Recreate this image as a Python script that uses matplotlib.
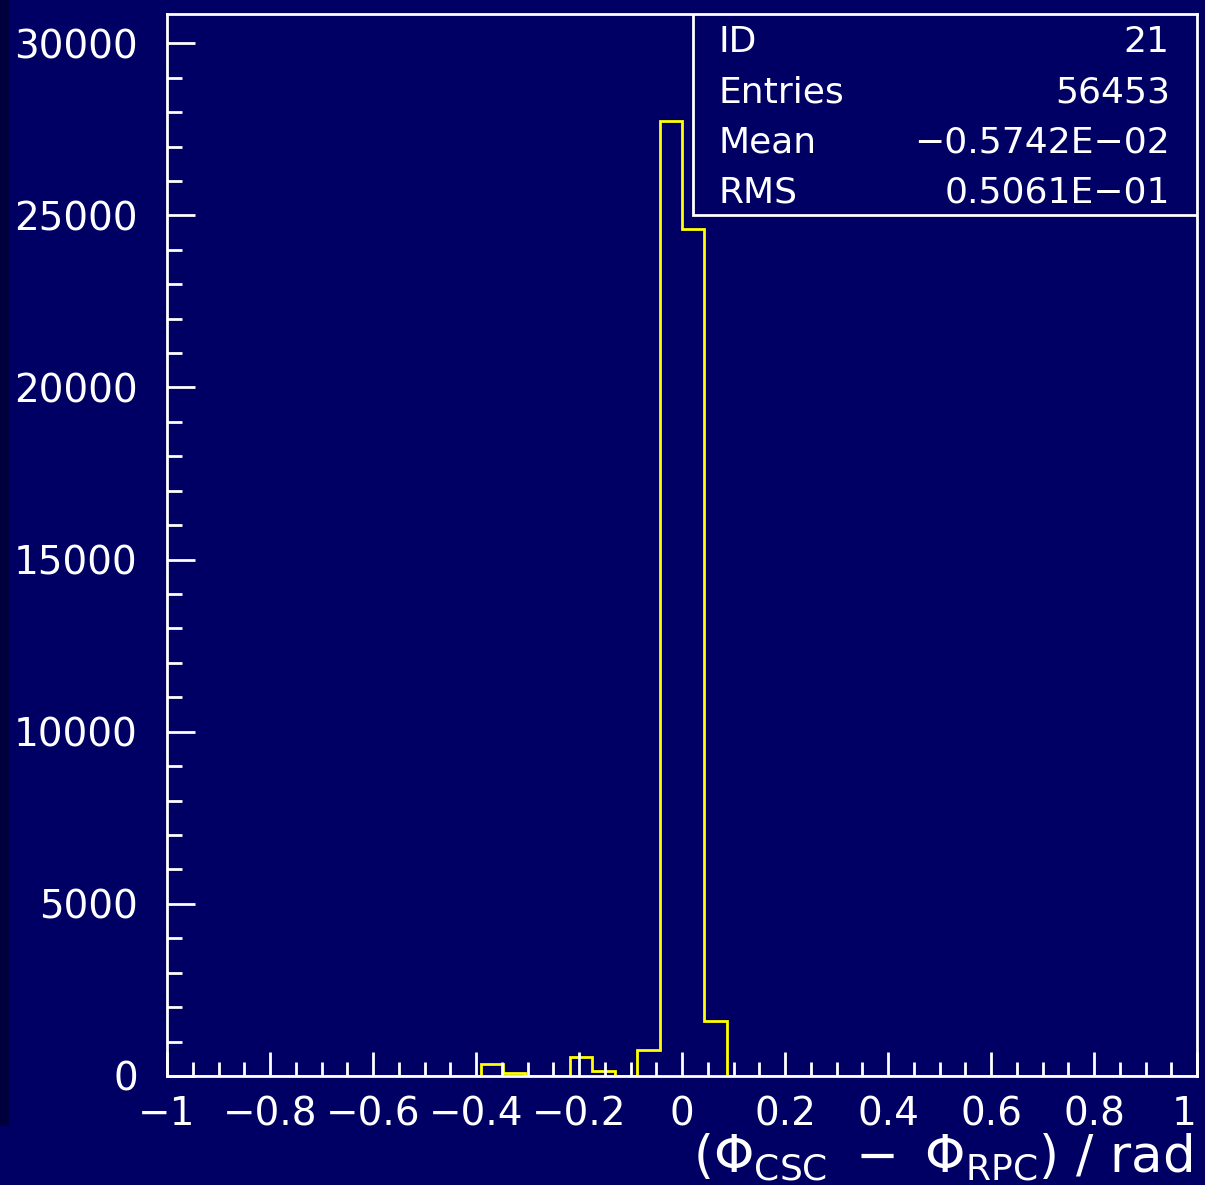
import numpy as np
import matplotlib
matplotlib.use('Agg')
import matplotlib.patches as mpatches
from matplotlib import pyplot as plt
from matplotlib.ticker import MultipleLocator

# histogram 21: 46 bins over [-1, 1]
n_bins = 46
x_lo, x_hi = -1.0, 1.0
# non-empty bins: (bin index, content)
filled_bins = [14, 15, 18, 19, 21, 22, 23, 24]
filled_counts = [348, 78, 543, 145, 755, 27745, 24600, 1606]

stat_names = ['ID', 'Entries', 'Mean', 'RMS']
stat_values = ['21', '56453', '\u22120.5742E\u221202', '0.5061E\u221201']

x_label = r'$(\Phi_{\mathrm{CSC}}\ -\ \Phi_{\mathrm{RPC}})\ /\ \mathrm{rad}$'

bg = '#000064'
fg = 'white'

plt.rcParams['mathtext.fontset'] = 'dejavusans'
plt.rcParams['font.family'] = ['DejaVu Sans']

edges = np.linspace(x_lo, x_hi, n_bins + 1)
counts = np.zeros(n_bins)
counts[filled_bins] = filled_counts


def fmt_x(v, pos):
    if abs(v) < 1e-9:
        return '0'
    return ('%g' % round(v, 1)).replace('-', '\u2212')


fig = plt.figure(figsize=[12.05, 11.85], dpi=100, facecolor=bg)
fig.patches.append(mpatches.Rectangle((0, 0.05), 0.0075, 0.95, transform=fig.transFigure,
                                      fc='#00003c', ec='none', zorder=0))
ax = fig.add_axes([0.1386, 0.0920, 0.8548, 0.8962])
ax.set_facecolor(bg)
ax.stairs(counts, edges, color='#ffff00', lw=2.0)

ax.set_xlim(x_lo, x_hi)
ax.set_ylim(0, 30850)
for s in ax.spines.values():
    s.set_color(fg)
    s.set_linewidth(2.0)

ax.xaxis.set_major_locator(MultipleLocator(0.2))
ax.xaxis.set_minor_locator(MultipleLocator(0.05))
ax.yaxis.set_major_locator(MultipleLocator(5000))
ax.yaxis.set_minor_locator(MultipleLocator(1000))
ax.tick_params(axis='both', which='both', direction='in', colors=fg, width=2.0,
               top=False, right=False, labelsize=28)
ax.tick_params(axis='x', which='major', length=17, pad=14)
ax.tick_params(axis='x', which='minor', length=10)
ax.tick_params(axis='y', which='major', length=20, pad=21)
ax.tick_params(axis='y', which='minor', length=11)
ax.xaxis.set_major_formatter(fmt_x)
ax.yaxis.set_major_formatter(lambda v, p: '%d' % v)

ax.set_xlabel(x_label, color=fg, fontsize=37)
ax.xaxis.set_label_coords(0.995, -0.052)
ax.xaxis.label.set_horizontalalignment('right')

# statistics box in the upper right corner
box = mpatches.Rectangle((0.5107, 0.811), 0.4893, 0.189, transform=ax.transAxes,
                         fc=bg, ec=fg, lw=2.0, zorder=5)
ax.add_patch(box)
row_y = [0.9735, 0.9264, 0.8794, 0.8323]
for name, val, y in zip(stat_names, stat_values, row_y):
    ax.text(0.5357, y, name, transform=ax.transAxes, color=fg, fontsize=26,
            ha='left', va='center', zorder=6)
    ax.text(0.9735, y, val, transform=ax.transAxes, color=fg, fontsize=26,
            ha='right', va='center', zorder=6)

# keep the last x label inside the canvas
fig.canvas.draw()
for tick in ax.xaxis.get_major_ticks():
    if abs(tick.get_loc() - x_hi) < 1e-9:
        tick.label1.set_horizontalalignment('right')

fig.savefig('out.png', dpi=100, facecolor=bg)
